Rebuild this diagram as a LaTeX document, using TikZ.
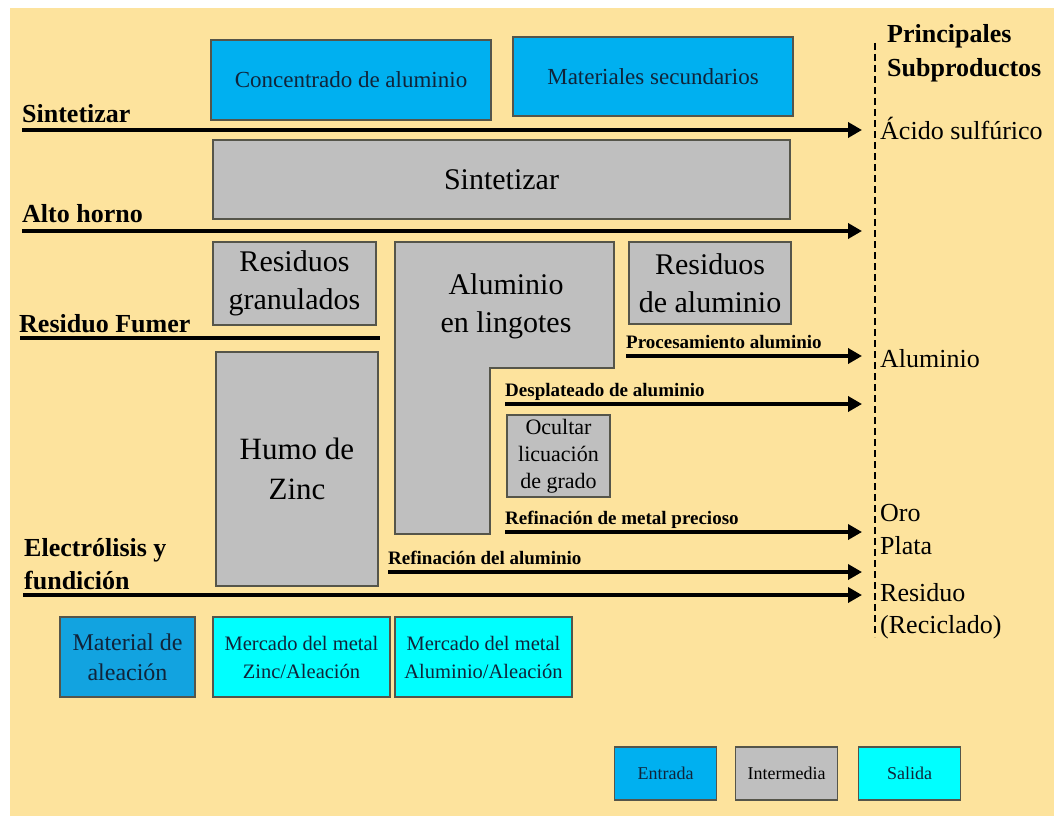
\documentclass[tikz,border=0pt]{standalone}
\usepackage{fontspec}
\setmainfont{LiberationSerif}[Extension=.ttf, UprightFont=*-Regular,
  BoldFont=*-Bold, ItalicFont=*-Italic, BoldItalicFont=*-BoldItalic]
\usetikzlibrary{arrows.meta}
\definecolor{fondo}{HTML}{FDE39D}
\definecolor{azul}{HTML}{00B0F0}
\definecolor{azulosc}{HTML}{12A3E0}
\definecolor{gris}{HTML}{BFBFBF}
\definecolor{cian}{HTML}{00FFFF}
\definecolor{borde}{HTML}{55554A}
\definecolor{tinta}{HTML}{10243A}
\tikzset{
  caja/.style={draw=borde, line width=1.2pt, align=center, inner sep=0pt},
  entrada/.style={caja, fill=azul, text=tinta},
  aleac/.style={caja, fill=azulosc, text=tinta},
  interm/.style={caja, fill=gris},
  salida/.style={caja, fill=cian, text=tinta},
  flujo/.style={line width=3.5pt, -{Triangle[length=14pt,width=15pt]}},
  etiq/.style={anchor=base west, inner sep=0pt, font=\bfseries\fontsize{26}{30}\selectfont},
  proc/.style={anchor=base west, inner sep=0pt, font=\bfseries\fontsize{19}{22}\selectfont},
  prod/.style={anchor=base west, inner sep=0pt, font=\fontsize{26}{30}\selectfont},
}
\begin{document}
\begin{tikzpicture}[x=1pt, y=-1pt]
\useasboundingbox (0,0) rectangle (1054,816);
\fill[fondo] (10,8) rectangle (1054,816);

\node (conc) [entrada, minimum width=280pt, minimum height=80pt,
  font=\fontsize{23}{27}\selectfont] at (351,80) {Concentrado de aluminio};
\node (matsec) [entrada, minimum width=280pt, minimum height=79pt,
  font=\fontsize{23}{27}\selectfont] at (653,76.5) {Materiales secundarios};
\node (sintbox) [interm, minimum width=577pt, minimum height=79pt,
  font=\fontsize{30}{38}\selectfont] at (501.5,179.5) {Sintetizar};
\node (resgran) [interm, minimum width=163pt, minimum height=83pt,
  font=\fontsize{30}{38}\selectfont] at (294.5,283.5) {Residuos\\granulados};
\node (resal) [interm, minimum width=162pt, minimum height=82pt,
  font=\fontsize{30}{38}\selectfont] at (710,283) {Residuos\\de aluminio};
\node (humo) [interm, minimum width=162pt, minimum height=234pt,
  font=\fontsize{31}{40}\selectfont] at (297,469) {Humo de\\Zinc};
\filldraw[fill=gris, draw=borde, line width=1.2pt]
  (395,242) -- (614,242) -- (614,368) -- (490,368) -- (490,534) -- (395,534) -- cycle;
\node (lingotes) [align=center, font=\fontsize{30}{38}\selectfont] at (506,306) {Aluminio\\en lingotes};
\node (ocultar) [interm, minimum width=103pt, minimum height=82pt,
  font=\fontsize{22}{27}\selectfont] at (558.5,456) {Ocultar\\licuación\\de grado};

\node (aleacion) [aleac, minimum width=135pt, minimum height=80pt,
  font=\fontsize{24}{30}\selectfont] at (127.5,657) {Material de\\aleación};
\node (mzinc) [salida, minimum width=177pt, minimum height=80pt,
  font=\fontsize{20.5}{28}\selectfont] at (301.5,657) {Mercado del metal\\Zinc/Aleación};
\node (malum) [salida, minimum width=177pt, minimum height=80pt,
  font=\fontsize{20.5}{28}\selectfont] at (483.5,657) {Mercado del metal\\Aluminio/Aleación};

\node (lentrada) [entrada, minimum width=102pt, minimum height=53pt,
  font=\fontsize{18}{22}\selectfont] at (665.5,773.5) {Entrada};
\node (linterm) [interm, minimum width=102pt, minimum height=53pt,
  font=\fontsize{18}{22}\selectfont] at (786.5,773.5) {Intermedia};
\node (lsalida) [salida, minimum width=102pt, minimum height=53pt,
  font=\fontsize{18}{22}\selectfont] at (909.5,773.5) {Salida};

\coordinate (sint-a) at (22,130);   \coordinate (sint-b) at (862,130);
\coordinate (alto-a) at (22,231);   \coordinate (alto-b) at (862,231);
\coordinate (fum-a) at (20,338);    \coordinate (fum-b) at (380,338);
\coordinate (proc-a) at (626,356);  \coordinate (proc-b) at (862,356);
\coordinate (desp-a) at (505,404);  \coordinate (desp-b) at (862,404);
\coordinate (prec-a) at (505,532);  \coordinate (prec-b) at (862,532);
\coordinate (ref-a) at (388,572);   \coordinate (ref-b) at (862,572);
\coordinate (elec-a) at (23,595);   \coordinate (elec-b) at (862,595);

\node (lsint) [etiq] at (22,122) {Sintetizar};
\node (lalto) [etiq] at (22,222) {Alto horno};
\node (lfum) [etiq] at (19,332) {Residuo Fumer};
\node (lelec1) [etiq] at (24,556) {Electrólisis y};
\node (lelec2) [etiq] at (24,589) {fundición};
\node (lproc) [proc] at (626,348) {Procesamiento aluminio};
\node (ldesp) [proc] at (505,396) {Desplateado de aluminio};
\node (lprec) [proc] at (505,524) {Refinación de metal precioso};
\node (lref) [proc] at (388,564) {Refinación del aluminio};

\draw[flujo] (sint-a) -- (sint-b);
\draw[flujo] (alto-a) -- (alto-b);
\draw[line width=3.5pt] (fum-a) -- (fum-b);
\draw[flujo] (proc-a) -- (proc-b);
\draw[flujo] (desp-a) -- (desp-b);
\draw[flujo] (prec-a) -- (prec-b);
\draw[flujo] (ref-a) -- (ref-b);
\draw[flujo] (elec-a) -- (elec-b);

\coordinate (div-a) at (875,43);
\coordinate (div-b) at (875,637);
\draw[line width=1.2pt, dash pattern=on 7pt off 4pt] (div-a) -- (div-b);

\node (princ) [etiq] at (887,43) {Principales};
\node (subp) [etiq] at (887,76) {Subproductos};
\node (acido) [prod] at (880,139) {Ácido sulfúrico};
\node (alum) [prod] at (880,367) {Aluminio};
\node (oro) [prod] at (880,521) {Oro};
\node (plata) [prod] at (880,554) {Plata};
\node (resid) [prod] at (880,601) {Residuo};
\node (recic) [prod] at (880,633) {(Reciclado)};
\end{tikzpicture}
\end{document}
